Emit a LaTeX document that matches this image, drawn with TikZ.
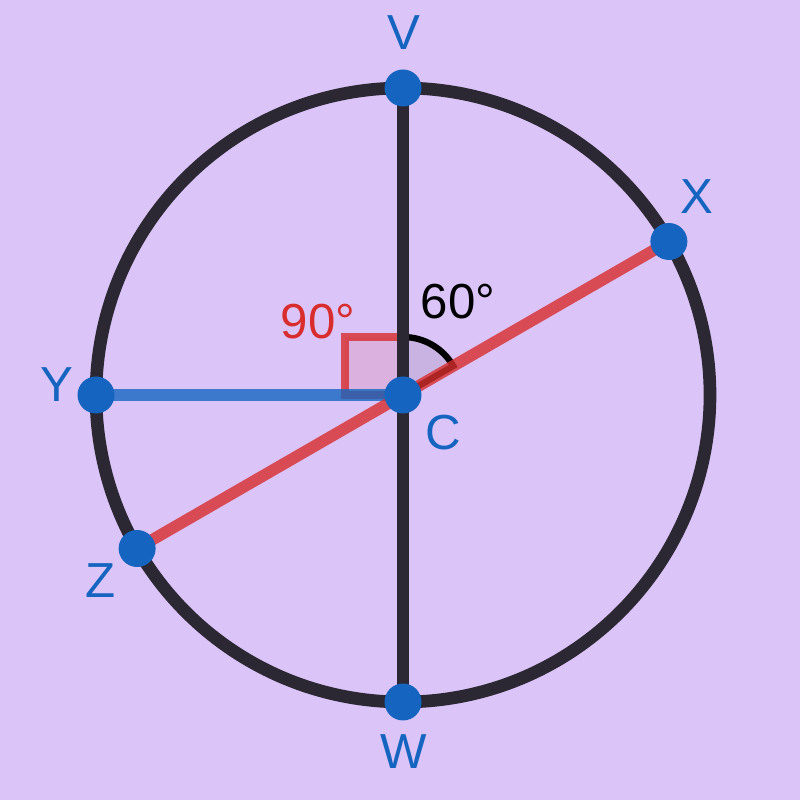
\documentclass[tikz,border=0pt]{standalone}
\usepackage{fontspec}
\setmainfont{Liberation Sans}
\usetikzlibrary{calc}

\definecolor{bgcol}{HTML}{DBC4F8}
\definecolor{ink}{HTML}{2B2733}
\definecolor{ptblue}{HTML}{1565C0}
\definecolor{chordred}{RGB}{216,45,44}

\begin{document}
\begin{tikzpicture}[
  font=\fontsize{14}{16}\selectfont,
  rim/.style={draw=ink, line width=3.6pt},
  seg/.style={line width=3.3pt, line cap=round},
  dot/.style={circle, fill=ptblue, inner sep=0pt, minimum size=3.7mm},
  lbl/.style={text=ptblue},
  rightmark/.style={draw=chordred, draw opacity=0.8, fill=chordred,
                    fill opacity=0.12, line width=2pt},
  anglemark/.style={draw=black, line width=1.8pt, fill=ink, fill opacity=0.1},
]
% background and frame
\fill[bgcol] (0,0) rectangle (8,8);
\useasboundingbox (0,0) rectangle (8,8);

\coordinate (C) at (4.03,4.05);
\coordinate (V) at ($(C)+(90:3.07)$);
\coordinate (W) at ($(C)+(270:3.07)$);
\coordinate (X) at ($(C)+(30:3.07)$);
\coordinate (Y) at ($(C)+(180:3.07)$);
\coordinate (Z) at ($(C)+(210:3.07)$);

% angle marks
\draw[rightmark] ($(C)+(-0.58,0)$) rectangle ($(C)+(0,0.58)$);
\draw[anglemark] (C) -- ++(90:0.58) arc[start angle=90, end angle=30, radius=0.58] -- cycle;

% circle and segments
\draw[rim] (C) circle (3.07);
\draw[seg, draw=ink] (V) -- (W);
\draw[seg, draw=ptblue, draw opacity=0.8] (Y) -- (C);
\draw[seg, draw=chordred, draw opacity=0.8] (X) -- (Z);

% points
\foreach \p in {V,W,X,Y,Z,C}
  \node[dot] (dot\p) at (\p) {};

% labels
\node[lbl] (lblV) at (4.04,7.67) {V};
\node[lbl] (lblW) at (4.04,0.48) {W};
\node[lbl] (lblX) at (6.97,6.03) {X};
\node[lbl] (lblY) at (0.57,4.15) {Y};
\node[lbl] (lblZ) at (1.01,2.19) {Z};
\node[lbl] (lblC) at (4.43,3.67) {C};
\node[text=chordred] (lbl90) at (3.18,4.78) {90°};
\node[text=black] (lbl60) at (4.58,4.98) {60°};

\end{tikzpicture}
\end{document}
